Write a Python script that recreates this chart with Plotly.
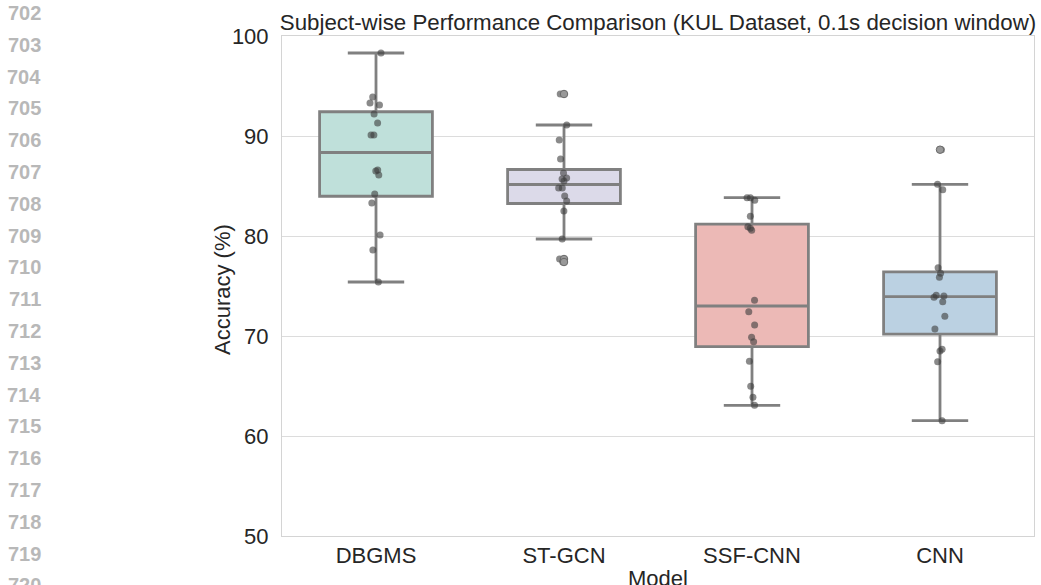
import numpy as np
import plotly.graph_objects as go

models = ["DBGMS", "ST-GCN", "SSF-CNN", "CNN"]
dbgms = [98.3, 93.9, 93.3, 93.1, 92.2, 91.3, 90.1, 90.1, 86.6, 86.5, 86.1, 84.2, 83.3, 80.1, 78.6, 75.4]
stgcn = [94.2, 91.1, 89.6, 87.7, 86.3, 85.8, 85.7, 85.5, 84.8, 84.8, 84.0, 83.5, 82.5, 79.7, 77.7, 77.4]
ssfcnn = [83.83, 83.83, 83.57, 81.97, 80.93, 80.77, 80.57, 73.57, 72.43, 71.1, 69.87, 69.43, 67.47, 64.97, 63.87, 63.07]
cnn = [88.63, 85.17, 84.63, 76.83, 76.27, 75.87, 74.07, 74.0, 73.87, 73.43, 71.97, 70.7, 68.67, 68.5, 67.43, 61.53]
series = [dbgms, stgcn, ssfcnn, cnn]
fills = ["#bfe0da", "#dcdae9", "#ecb9b6", "#bbd1e2"]
y_ticks = [50, 60, 70, 80, 90, 100]
line_numbers = list(range(702, 721))

title = "Subject-wise Performance Comparison (KUL Dataset, 0.1s decision window)"
FONT = "Liberation Sans, Arial, sans-serif"
BOX_LINE = "#808080"
FS = 22

W, H = 1041, 585
L, T, R, B = 282, 36, 7, 49
PW, PH = W - L - R, H - T - B


def px_x(x):  # pixel x -> paper
    return (x - L) / PW


def px_y(y):  # pixel y -> paper
    return (H - B - y) / PH


fig = go.Figure()

out_x, out_y = [], []
for name, vals, fc in zip(models, series, fills):
    v = np.array(vals, dtype=float)
    q1, med, q3 = np.percentile(v, [25, 50, 75])
    iqr = q3 - q1
    lo = v[v >= q1 - 1.5 * iqr].min()
    hi = v[v <= q3 + 1.5 * iqr].max()
    for val in v:
        if val < lo or val > hi:
            out_x.append(name)
            out_y.append(val)
    fig.add_trace(go.Box(
        x=[name], q1=[q1], median=[med], q3=[q3], lowerfence=[lo], upperfence=[hi],
        fillcolor=fc, line=dict(color=BOX_LINE, width=2.8),
        boxpoints=False, width=0.6, whiskerwidth=0.5, showlegend=False,
        hoverinfo="skip",
    ))

# outlier (flier) markers
fig.add_trace(go.Scatter(
    x=out_x, y=out_y, mode="markers",
    marker=dict(size=7.5, color="#999999", line=dict(color="#6a6a6a", width=1)),
    showlegend=False, hoverinfo="skip",
))

# strip points (jittered)
all_x, all_y = [], []
for name, vals in zip(models, series):
    all_x += [name] * len(vals)
    all_y += vals
fig.add_trace(go.Box(
    x=all_x, y=all_y, boxpoints="all", jitter=0.12, pointpos=0, width=0.6,
    fillcolor="rgba(0,0,0,0)", line=dict(color="rgba(0,0,0,0)", width=0),
    marker=dict(size=7, color="rgba(60,60,60,0.6)"),
    showlegend=False, hoverinfo="skip",
))

for i, ln in enumerate(line_numbers):
    py = 13 + 31.8 * i
    fig.add_annotation(
        text=f"<b>{ln}</b>", xref="paper", yref="paper",
        x=px_x(43), y=px_y(py), xanchor="right", yanchor="middle",
        showarrow=False, font=dict(family=FONT, size=20, color="#b8b8b8"),
    )

# axis titles as annotations for exact placement
fig.add_annotation(
    text="Accuracy (%)", xref="paper", yref="paper", x=px_x(222), y=px_y(290),
    xanchor="center", yanchor="middle", textangle=-90, showarrow=False,
    font=dict(family=FONT, size=FS, color="#262626"),
)
fig.add_annotation(
    text="Model", xref="paper", yref="paper", x=0.5, y=px_y(578),
    xanchor="center", yanchor="middle", showarrow=False,
    font=dict(family=FONT, size=FS, color="#262626"),
)

fig.update_layout(
    width=W, height=H,
    margin=dict(l=L, r=R, t=T, b=B, autoexpand=False),
    paper_bgcolor="white", plot_bgcolor="white",
    boxmode="overlay",
    font=dict(family=FONT, color="#262626", size=FS),
    title=dict(text=title, x=0.5, xref="paper", xanchor="center",
               y=1 - 22 / H, yref="container", yanchor="middle",
               automargin=False,
               font=dict(family=FONT, size=22.3, color="#262626")),
    xaxis=dict(
        type="category", categoryorder="array", categoryarray=models,
        range=[-0.5, 3.5], showgrid=False, showline=True, mirror=True,
        linecolor="#d4d4d4", linewidth=1, ticks="", tickfont=dict(size=FS),
        zeroline=False, automargin=False,
    ),
    yaxis=dict(
        range=[50, 100], tickvals=y_ticks, showgrid=True, gridcolor="#dcdcdc",
        gridwidth=1, showline=True, mirror=True, linecolor="#d4d4d4", linewidth=1,
        ticks="", tickfont=dict(size=FS), zeroline=False, ticklabelstandoff=8,
        automargin=False,
    ),
)

fig.write_html(
    "out.html",
    config={"displayModeBar": False},
    post_script="document.body.style.margin='0';document.body.style.overflow='hidden';",
)
